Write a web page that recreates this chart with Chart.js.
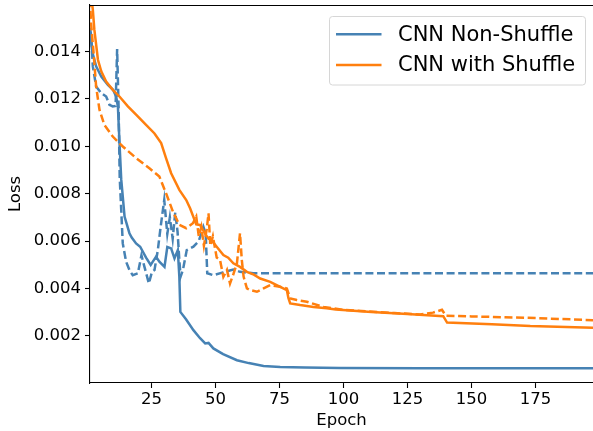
<!DOCTYPE html>
<html>
<head>
<meta charset="utf-8">
<script src="https://cdn.jsdelivr.net/npm/chart.js@4.4.1/dist/chart.umd.min.js"></script>
<style>
  html, body { margin: 0; padding: 0; background: #fff; }
  #wrap { width: 593px; height: 431px; }
</style>
</head>
<body>
<div id="wrap"><canvas id="lossChart" width="593" height="431"></canvas></div>
<script>
// tick labels
const xTicks = [25, 50, 75, 100, 125, 150, 175];
const yTicks = [0.002, 0.004, 0.006, 0.008, 0.010, 0.012, 0.014];

// CNN Non-Shuffle, solid
const blueSolidEpoch = [1, 2, 3.4, 5.4, 8, 10, 11.2, 11.9, 12.5, 13.2, 14.5, 16.4, 17.3, 19, 20.6, 22.9, 24.7, 26.8, 28.1, 30.1, 31.2, 32.7, 34, 35.3, 35.9, 36.3, 38.5, 41.4, 44, 46, 47.3, 49.2, 53, 58.4, 63, 68.8, 75.3, 85, 98.7, 130, 197.5];
const blueSolidLoss = [0.0148, 0.01393, 0.01337, 0.01294, 0.01259, 0.01238, 0.0121, 0.01168, 0.0102, 0.0086, 0.00703, 0.00633, 0.00615, 0.0059, 0.00576, 0.0053, 0.00499, 0.00534, 0.00513, 0.00491, 0.00575, 0.00569, 0.00527, 0.00562, 0.0045, 0.00301, 0.0027, 0.00224, 0.0019, 0.00168, 0.0017, 0.00147, 0.00123, 0.00097, 0.00085, 0.00073, 0.00069, 0.00066, 0.00064, 0.00063, 0.00063];

// CNN Non-Shuffle, dashed
const blueDashEpoch = [1, 1.5, 2.1, 3.4, 5.4, 7.3, 8.6, 9.9, 11, 11.6, 12.2, 12.6, 13.2, 13.8, 15.1, 16.5, 17.7, 19.7, 21.1, 22.3, 24, 25.2, 26.2, 27.5, 28.6, 30, 31.2, 32.2, 33.3, 34.3, 35.2, 35.9, 36.4, 37.3, 38.8, 41.4, 43.5, 45.3, 46.2, 46.8, 49.2, 53, 57, 59.6, 64.8, 197.5];
const blueDashLoss = [0.0150, 0.01463, 0.01337, 0.01252, 0.01224, 0.0121, 0.01175, 0.01168, 0.0117, 0.0141, 0.0115, 0.0087, 0.00731, 0.0059, 0.00513, 0.00475, 0.00456, 0.00464, 0.0054, 0.0049, 0.00421, 0.0047, 0.00478, 0.00562, 0.0066, 0.00773, 0.0063, 0.0070, 0.0061, 0.0072, 0.0064, 0.0052, 0.0045, 0.00478, 0.00562, 0.00576, 0.0060, 0.0066, 0.0063, 0.00464, 0.00456, 0.00468, 0.0048, 0.0047, 0.00464, 0.00464];

// CNN with Shuffle, solid
const orangeSolidEpoch = [1, 2.1, 2.7, 4.1, 5.4, 7.3, 9.9, 12.5, 15.8, 19, 22.9, 26.2, 28.8, 30.7, 32.7, 35.9, 38.6, 40.1, 42.5, 44, 46, 47.3, 47.9, 50.5, 53.1, 55, 57, 59.6, 62.3, 65, 67.5, 71.4, 75.3, 77.9, 78.5, 79.2, 83.1, 88.3, 93.5, 97, 111, 125, 139, 140.5, 158, 173, 197.5];
const orangeSolidLoss = [0.0168, 0.01576, 0.01492, 0.01365, 0.01316, 0.01273, 0.01238, 0.0121, 0.01168, 0.01133, 0.0109, 0.01054, 0.01013, 0.0095, 0.00886, 0.00816, 0.00773, 0.00738, 0.0067, 0.00668, 0.0063, 0.0061, 0.00611, 0.00576, 0.00541, 0.0053, 0.00506, 0.00491, 0.0047, 0.00458, 0.00442, 0.00428, 0.00407, 0.00393, 0.0036, 0.00337, 0.0033, 0.00322, 0.00316, 0.00311, 0.00301, 0.00292, 0.00283, 0.00256, 0.00249, 0.00241, 0.00234];

// CNN with Shuffle, dashed
const orangeDashEpoch = [1, 1.4, 2.3, 3.4, 4.7, 6.6, 9.9, 13.8, 19, 24.2, 28.1, 30.7, 33.4, 35.9, 38.6, 41.2, 42.5, 43.5, 44.5, 45.5, 46.6, 47.3, 48, 49, 50.5, 51.8, 53.1, 54.5, 55.7, 57, 58.4, 59.6, 60.3, 61, 62.3, 63.6, 66.2, 68.8, 71.4, 75.3, 77.9, 79.2, 81.8, 85.7, 92.2, 100, 110, 120, 130, 135, 138.5, 140, 150, 175, 197.5];
const orangeDashLoss = [0.0162, 0.0152, 0.01407, 0.01252, 0.01154, 0.0109, 0.01041, 0.00999, 0.0095, 0.00907, 0.00872, 0.00802, 0.00724, 0.00668, 0.00654, 0.00675, 0.00703, 0.0062, 0.0066, 0.0058, 0.0065, 0.00717, 0.0058, 0.0062, 0.0053, 0.0052, 0.00449, 0.00478, 0.00421, 0.0046, 0.00506, 0.00633, 0.0052, 0.0045, 0.004, 0.00393, 0.00386, 0.004, 0.00414, 0.00407, 0.004, 0.00358, 0.00351, 0.00344, 0.00322, 0.0031, 0.00303, 0.00296, 0.0029, 0.00298, 0.0031, 0.00285, 0.00282, 0.00275, 0.00266];

const BLUE = "#4682b4";
const ORANGE = "#ff7f0e";
const FONT = "'DejaVu Sans', sans-serif";

function toPoints(xs, ys) {
  return xs.map((x, i) => ({ x: x, y: ys[i] }));
}

// top spine (matplotlib frame)
const topSpine = {
  id: "topSpine",
  afterDraw(chart) {
    const { ctx, chartArea } = chart;
    ctx.save();
    ctx.strokeStyle = "#000";
    ctx.lineWidth = 1;
    ctx.beginPath();
    ctx.moveTo(chartArea.left, Math.round(chartArea.top) + 0.5);
    ctx.lineTo(chartArea.right, Math.round(chartArea.top) + 0.5);
    ctx.stroke();
    ctx.restore();
  },
};

// legend box in the upper right, only the solid lines
const legendBox = {
  id: "legendBox",
  afterDraw(chart) {
    const ctx = chart.ctx;
    const x = 329.5, y = 16.5, w = 256, h = 68.5, r = 3;
    ctx.save();
    ctx.beginPath();
    ctx.moveTo(x + r, y);
    ctx.arcTo(x + w, y, x + w, y + h, r);
    ctx.arcTo(x + w, y + h, x, y + h, r);
    ctx.arcTo(x, y + h, x, y, r);
    ctx.arcTo(x, y, x + w, y, r);
    ctx.closePath();
    ctx.fillStyle = "rgba(255,255,255,0.8)";
    ctx.fill();
    ctx.strokeStyle = "#d6d6d6";
    ctx.lineWidth = 1;
    ctx.stroke();

    const items = chart.data.datasets.filter((d) => d.inLegend);
    const rows = [34.3, 65];
    ctx.font = "21px " + FONT;
    ctx.textBaseline = "middle";
    ctx.fillStyle = "#000";
    items.forEach((d, i) => {
      ctx.strokeStyle = d.borderColor;
      ctx.lineWidth = 2.5;
      ctx.beginPath();
      ctx.moveTo(336, rows[i]);
      ctx.lineTo(381.5, rows[i]);
      ctx.stroke();
      ctx.fillText(d.label, 398, rows[i] + 1);
    });
    ctx.restore();
  },
};

const data = {
  datasets: [
    {
      label: "CNN with Shuffle",
      data: toPoints(orangeDashEpoch, orangeDashLoss),
      borderColor: ORANGE,
      borderDash: [8, 3.6],
      order: 1,
    },
    {
      label: "CNN with Shuffle",
      data: toPoints(orangeSolidEpoch, orangeSolidLoss),
      borderColor: ORANGE,
      inLegend: true,
      order: 2,
    },
    {
      label: "CNN Non-Shuffle",
      data: toPoints(blueDashEpoch, blueDashLoss),
      borderColor: BLUE,
      borderDash: [8, 3.6],
      order: 3,
    },
    {
      label: "CNN Non-Shuffle",
      data: toPoints(blueSolidEpoch, blueSolidLoss),
      borderColor: BLUE,
      inLegend: true,
      order: 4,
    },
  ],
};
// legend order: blue first
data.datasets.sort((a, b) => b.order - a.order);

const config = {
  type: "line",
  data: data,
  options: {
    responsive: false,
    animation: false,
    devicePixelRatio: 1,
    layout: { padding: { top: 5, right: 0, bottom: 0, left: 0 } },
    elements: {
      line: { borderWidth: 2.5, tension: 0, fill: false },
      point: { radius: 0 },
    },
    plugins: {
      legend: { display: false },
      tooltip: { enabled: false },
    },
    scales: {
      x: {
        type: "linear",
        min: 1,
        max: 197.5,
        afterBuildTicks: (scale) => {
          scale.ticks = xTicks.map((v) => ({ value: v }));
        },
        afterFit: (scale) => {
          scale.height = 48;
          scale.paddingLeft = 0;
          scale.paddingRight = 0;
        },
        grid: { display: true, drawOnChartArea: false, tickLength: 5, tickColor: "#000", tickWidth: 1.1 },
        border: { display: true, color: "#000", width: 1.1 },
        ticks: { color: "#000", font: { family: FONT, size: 16.5 }, padding: 2, maxRotation: 0 },
        title: { display: true, text: "Epoch", color: "#000", font: { family: FONT, size: 16.5 }, padding: { top: 2, bottom: 0 } },
      },
      y: {
        type: "linear",
        min: 0.00001,
        max: 0.01596,
        afterBuildTicks: (scale) => {
          scale.ticks = yTicks.map((v) => ({ value: v }));
        },
        afterFit: (scale) => {
          scale.width = 90;
          scale.paddingTop = 0;
          scale.paddingBottom = 0;
        },
        grid: { display: true, drawOnChartArea: false, tickLength: 5, tickColor: "#000", tickWidth: 1.1 },
        border: { display: true, color: "#000", width: 1.1 },
        ticks: {
          color: "#000",
          font: { family: FONT, size: 16.5 },
          padding: 4,
          callback: (v) => v.toFixed(3),
        },
        title: { display: true, text: "Loss", color: "#000", font: { family: FONT, size: 16.5 }, padding: { top: 6, bottom: 0 } },
      },
    },
  },
  plugins: [topSpine, legendBox],
};

const lossChart = new Chart(document.getElementById("lossChart"), config);
</script>
</body>
</html>
